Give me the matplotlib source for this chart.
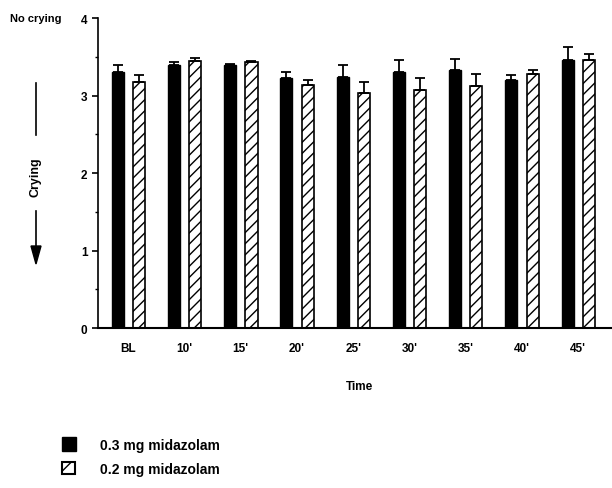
import numpy as np
import matplotlib
matplotlib.use('Agg')
import matplotlib.pyplot as plt
from matplotlib.patches import Rectangle

# data
times = ['BL', "10'", "15'", "20'", "25'", "30'", "35'", "40'", "45'"]
mid03 = [3.31, 3.40, 3.40, 3.23, 3.24, 3.30, 3.33, 3.20, 3.46]
mid03_err = [0.09, 0.03, 0.01, 0.08, 0.15, 0.16, 0.14, 0.06, 0.17]
mid02 = [3.17, 3.44, 3.43, 3.14, 3.03, 3.07, 3.12, 3.28, 3.46]
mid02_err = [0.09, 0.04, 0.01, 0.06, 0.15, 0.16, 0.16, 0.05, 0.08]

plt.rcParams['font.family'] = ['Liberation Sans', 'DejaVu Sans']
plt.rcParams['font.weight'] = 'bold'
plt.rcParams['hatch.linewidth'] = 1.0

fig = plt.figure(figsize=(6.12, 4.89), dpi=100)
ax = fig.add_axes([0.160, 0.327, 0.84, 0.634])

x = np.arange(len(times))
w = 0.215
off = 0.19
ekw = dict(ecolor='black', elinewidth=1.3, capsize=3.5, capthick=1.3)
ax.bar(x - off, mid03, w, color='black', edgecolor='black',
       yerr=[np.zeros(len(x)), mid03_err], error_kw=ekw)
ax.bar(x + off, mid02, w, color='white', edgecolor='black', linewidth=1.2, hatch='///',
       yerr=[np.zeros(len(x)), mid02_err], error_kw=ekw)

ax.set_xlim(-0.54, 8.6)
ax.set_ylim(0, 4)
ax.set_yticks([0, 1, 2, 3, 4])
ax.set_yticks(np.arange(0.5, 4, 1), minor=True)
ax.set_xticks(x)
ax.set_xticklabels(times)
ax.tick_params(axis='x', length=0, pad=10, labelsize=8.5)
ax.tick_params(axis='y', which='major', direction='out', length=4, width=1.2, labelsize=8.5)
ax.tick_params(axis='y', which='minor', direction='out', length=2, width=1)
for s in ['top', 'right']:
    ax.spines[s].set_visible(False)
ax.spines['left'].set_linewidth(1.2)
ax.spines['bottom'].set_linewidth(1.5)

fig.text(10 / 612, 1 - 19 / 489, 'No crying', fontsize=8, fontweight='bold', va='center', ha='left')
fig.text(36 / 612, 1 - 177 / 489, 'Crying', fontsize=9, fontweight='bold', rotation=90,
         va='center', ha='center')
fig.add_artist(plt.Line2D([36 / 612, 36 / 612], [1 - 84 / 489, 1 - 136 / 489], color='black', lw=1.2))
fig.add_artist(plt.Line2D([36 / 612, 36 / 612], [1 - 212 / 489, 1 - 250 / 489], color='black', lw=1.2))
fig.add_artist(plt.Polygon([[31 / 612, 1 - 247 / 489], [41 / 612, 1 - 247 / 489], [36 / 612, 1 - 265 / 489]],
                           closed=True, color='black'))

fig.text(360 / 612, 1 - 387 / 489, 'Time', fontsize=8.5, fontweight='bold', ha='center', va='center')

# legend
fig.add_artist(Rectangle((62 / 612, 1 - 452 / 489), 14 / 612, 14 / 489, facecolor='black', edgecolor='black'))
fig.add_artist(Rectangle((62 / 612, 1 - 475 / 489), 13 / 612, 12 / 489, facecolor='white', edgecolor='black',
                         lw=1.5, hatch='//'))
fig.text(100 / 612, 1 - 446 / 489, '0.3 mg midazolam', fontsize=10, fontweight='bold', va='center')
fig.text(100 / 612, 1 - 470 / 489, '0.2 mg midazolam', fontsize=10, fontweight='bold', va='center')

fig.savefig('out.png', dpi=100)
